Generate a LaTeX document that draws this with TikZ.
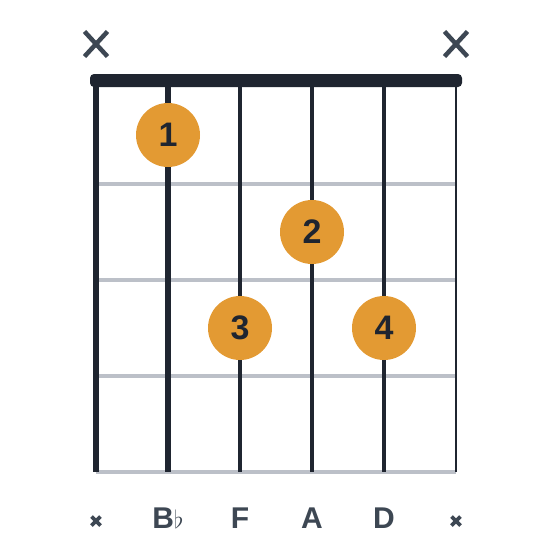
\documentclass[tikz,border=0pt]{standalone}
\usepackage{fontspec}
\setmainfont{Liberation Sans}
\definecolor{inkdark}{HTML}{1F2530}
\definecolor{inkgray}{HTML}{3D4753}
\definecolor{fretgray}{HTML}{BCC0C8}
\definecolor{fingerorange}{HTML}{E39A33}

\begin{document}
\begin{tikzpicture}[x=1pt,y=-1pt,
    fret/.style={fretgray,line width=4pt},
    finger/.style={circle,fill=fingerorange,minimum size=64pt,inner sep=0pt,
      text=inkdark,font=\fontsize{34}{34}\selectfont\bfseries},
    note/.style={anchor=base,text=inkgray,inner sep=0pt,
      font=\fontsize{30}{30}\selectfont\bfseries},
    bigx/.style={inkgray,line width=4.5pt},
    smallx/.style={inkgray,line width=3.8pt}]
	\useasboundingbox (0,0) rectangle (560,560);

	% frets
	\foreach \y in {184,280,376,472}
		\draw[fret] (96,\y) -- (456,\y);

	% strings
	\foreach \x/\w in {96/6,168/5.6,240/4.6,312/4,384/3.4,456/2.6}
		\draw[inkdark,line width=\w pt] (\x,80) -- (\x,472);

	% nut
	\fill[inkdark,rounded corners=4pt] (90,74) rectangle (462,87);

	% muted strings
	\foreach \x in {96,456} {
		\draw[bigx] (\x-11.5,31.5) -- (\x+11.5,56.5);
		\draw[bigx] (\x-11.5,56.5) -- (\x+11.5,31.5);
		\draw[smallx] (\x-4.5,516.5) -- (\x+4.5,525.5);
		\draw[smallx] (\x-4.5,525.5) -- (\x+4.5,516.5);
	}

	% fingers
	\node[finger] (f1) at (168,135) {1};
	\node[finger] (f2) at (312,232) {2};
	\node[finger] (f3) at (240,328) {3};
	\node[finger] (f4) at (384,328) {4};

	% notes
	\node[note] (nBb) at (168,528.5) {B{\fontsize{36}{36}\selectfont$\flat$}};
	\node[note] (nF) at (240,528.5) {F};
	\node[note] (nA) at (312,528.5) {A};
	\node[note] (nD) at (384,528.5) {D};
\end{tikzpicture}
\end{document}
